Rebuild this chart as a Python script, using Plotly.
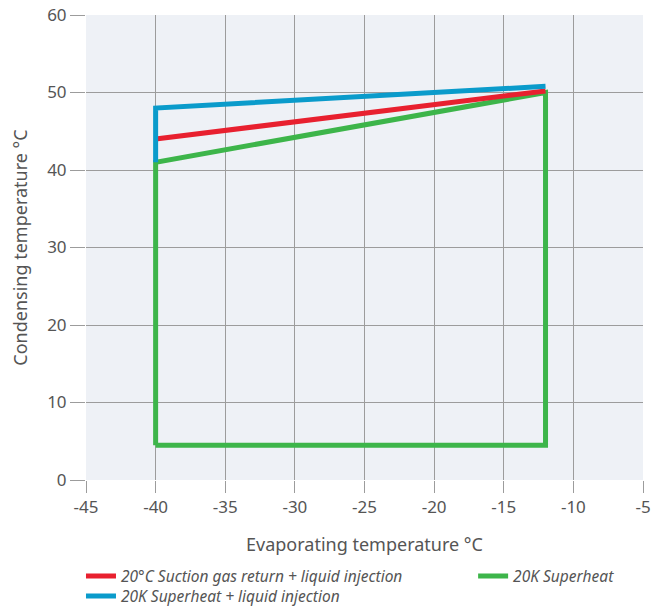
import plotly.graph_objects as go

# Data
red_x = [-40, -12]
red_y = [44, 50.2]
blue_x = [-40, -40, -12]
blue_y = [41, 48, 50.8]
green_x = [-40, -40, -12, -12, -40]
green_y = [4.5, 41, 50, 4.5, 4.5]

names = ["20°C Suction gas return + liquid injection",
         "20K Superheat + liquid injection",
         "20K Superheat"]
colors = ["#E8202F", "#0A9BCB", "#3DB54A"]

x_ticks = [-45, -40, -35, -30, -25, -20, -15, -10, -5]
y_ticks = [0, 10, 20, 30, 40, 50, 60]

FONT = "Noto Sans"
GRID = "#9C9C9C"
TXT = "#555555"

fig = go.Figure()
fig.add_trace(go.Scatter(x=green_x, y=green_y, mode="lines", name=names[2],
                         line=dict(color=colors[2], width=5), legend="legend2"))
fig.add_trace(go.Scatter(x=red_x, y=red_y, mode="lines", name=names[0],
                         line=dict(color=colors[0], width=5), legend="legend"))
fig.add_trace(go.Scatter(x=blue_x, y=blue_y, mode="lines", name=names[1],
                         line=dict(color=colors[1], width=5), legend="legend3"))

leg_font = dict(family=FONT, size=15.5, color=TXT, style="italic")
fig.update_layout(
    template="none",
    width=672, height=607,
    margin=dict(l=78, r=37, t=7, b=135, autoexpand=False),
    plot_bgcolor="#EEF1F6",
    paper_bgcolor="white",
    font=dict(family=FONT, color=TXT, size=16),
    xaxis=dict(range=[-45, -5], tickvals=x_ticks, ticktext=[str(v) for v in x_ticks],
               showgrid=True, gridcolor=GRID, gridwidth=1.2, automargin=False,
               zeroline=False, showline=False, ticklabeloverflow="allow",
               ticks="outside", ticklen=12, tickcolor=GRID, tickwidth=1.2,
               title=dict(text="Evaporating temperature °C", font=dict(size=18, color=TXT), standoff=20),
               tickfont=dict(size=17, color=TXT)),
    yaxis=dict(range=[0, 60], tickvals=y_ticks, automargin=False,
               showgrid=True, gridcolor=GRID, gridwidth=1.2,
               zeroline=False, showline=False, ticklabeloverflow="allow",
               ticks="outside", ticklen=15, tickcolor=GRID, tickwidth=1.2,
               title=dict(text="Condensing temperature °C", font=dict(size=18, color=TXT), standoff=14),
               tickfont=dict(size=17, color=TXT)),
    legend=dict(x=-0.009, y=-0.171, xanchor="left", yanchor="top", xref="paper", yref="paper",
                orientation="v", itemwidth=30, font=leg_font, bgcolor="rgba(0,0,0,0)"),
    legend3=dict(x=-0.009, y=-0.214, xanchor="left", yanchor="top", xref="paper", yref="paper",
                 orientation="v", itemwidth=30, font=leg_font, bgcolor="rgba(0,0,0,0)"),
    legend2=dict(x=0.695, y=-0.171, xanchor="left", yanchor="top", xref="paper", yref="paper",
                 orientation="v", itemwidth=30, font=leg_font, bgcolor="rgba(0,0,0,0)"),
    showlegend=True,
)

fig.write_html("out.html")
